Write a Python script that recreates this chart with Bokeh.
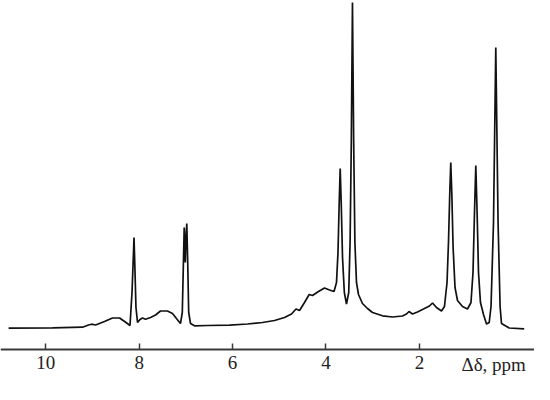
from bokeh.plotting import figure
from bokeh.models import Range1d, FixedTicker, Label, ColumnDataSource
from bokeh.embed import file_html
from bokeh.resources import INLINE

# Chemical shift (ppm) and intensity (arbitrary units)
ppm = [10.797, 9.856, 9.214, 9.086, 9.019, 8.934, 8.744, 8.572, 8.420, 8.297,
       8.197, 8.154, 8.130, 8.111, 8.092, 8.069, 8.036, 7.983, 7.930, 7.865,
       7.758, 7.650, 7.544, 7.394, 7.287, 7.202, 7.116, 7.077, 7.053, 7.036,
       7.013, 6.998, 6.981, 6.961, 6.940, 6.901, 6.815, 6.538, 6.066, 5.681,
       5.360, 5.102, 4.888, 4.739, 4.642, 4.567, 4.460, 4.360, 4.289, 4.161,
       4.032, 3.925, 3.828, 3.775, 3.743, 3.717, 3.696, 3.674, 3.646, 3.607,
       3.561, 3.513, 3.484, 3.458, 3.433, 3.407, 3.381, 3.347, 3.304, 3.219,
       3.111, 3.004, 2.790, 2.576, 2.362, 2.276, 2.222, 2.147, 2.041, 1.912,
       1.784, 1.719, 1.634, 1.526, 1.463, 1.408, 1.377, 1.349, 1.328, 1.306,
       1.278, 1.237, 1.184, 1.077, 0.970, 0.895, 0.852, 0.820, 0.792, 0.764,
       0.734, 0.692, 0.627, 0.563, 0.505, 0.466, 0.413, 0.385, 0.364, 0.343,
       0.315, 0.272, 0.242, 0.077, -0.244]
intensity = [0.3, 0.7, 1.3, 3.5, 4.3, 3.5, 7, 10.5, 10.5, 6.5,
             3, 36, 66, 91, 61, 21, 6, 9, 10.5, 9.3,
             11, 13.5, 17.5, 17.5, 15, 10, 5, 16, 66, 101,
             66, 91, 105, 66, 16, 5, 2.7, 3, 3.3, 4.5,
             6, 8, 11, 14.5, 19.5, 18, 26, 34, 33, 37,
             40.5, 38.5, 37, 46, 76, 126, 160, 126, 71, 36,
             24.5, 36, 86, 186, 326, 186, 86, 46, 34, 25,
             20, 16, 12.7, 11.5, 12.5, 14.5, 17, 14.5, 16.5, 19.5,
             22.5, 25.5, 21, 17.5, 22, 46, 86, 136, 166, 136,
             81, 41, 28, 22, 19.5, 26, 56, 116, 163, 116,
             56, 26, 14, 4.5, 6, 22, 106, 206, 281, 206,
             106, 22, 5, 0.5, -0.3]

tick_values = [10, 8, 6, 4, 2]
axis_label_text = "\u0394\u03b4, ppm"

SERIF = "Liberation Serif"

p = figure(width=534, height=384, output_backend="svg", toolbar_location=None,
           x_range=Range1d(10.970, -0.465), y_range=Range1d(-56, 328),
           min_border_left=0, min_border_right=0, min_border_top=0,
           min_border_bottom=0)
p.outline_line_color = None
p.xgrid.visible = False
p.ygrid.visible = False
p.yaxis.visible = False
p.background_fill_color = "white"

src = ColumnDataSource(dict(x=ppm, y=intensity))
p.line("x", "y", source=src, line_color="#111111", line_width=1.7)

p.xaxis.fixed_location = -21
p.xaxis.ticker = FixedTicker(ticks=tick_values, minor_ticks=[])
p.xaxis.axis_line_color = "#3a3a3a"
p.xaxis.axis_line_width = 2
p.xaxis.major_tick_line_color = "#3a3a3a"
p.xaxis.major_tick_line_width = 1.5
p.xaxis.major_tick_in = 6
p.xaxis.major_tick_out = 0
p.xaxis.minor_tick_line_color = None
p.xaxis.major_label_text_font = SERIF
p.xaxis.major_label_text_font_style = "normal"
p.xaxis.major_label_text_font_size = "19px"
p.xaxis.major_label_text_color = "#222222"
p.xaxis.major_label_standoff = 6

lab = Label(x=0.41, y=-36, x_units="data", y_units="data", text=axis_label_text,
            text_font=SERIF, text_font_size="19px",
            text_color="#222222", text_baseline="middle", text_align="center")
p.add_layout(lab)

open("out.html", "w").write(file_html(p, INLINE))
